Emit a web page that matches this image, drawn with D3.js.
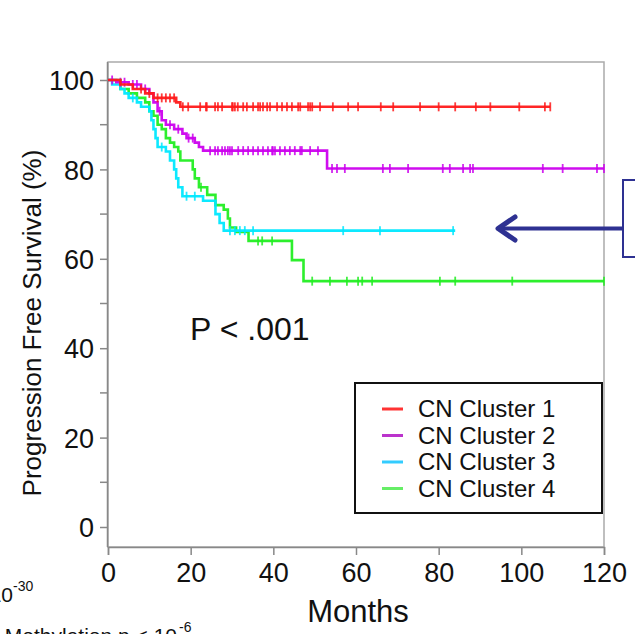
<!DOCTYPE html>
<html><head><meta charset="utf-8">
<script src="https://cdn.jsdelivr.net/npm/d3@7"></script>
<style>html,body{margin:0;padding:0;background:#fff;}svg{display:block;font-family:"Liberation Sans",Arial,sans-serif;}</style>
</head><body><div id="chart"></div>
<script>
// ---- data ----
const seriesNames = ["CN Cluster 1","CN Cluster 2","CN Cluster 3","CN Cluster 4"];
const seriesColors = ["#ff1a1a","#cc00ee","#00e8ff","#22ee22"];
const legendColors = ["#ff3333","#bb33cc","#33ccff","#66ee66"];

const c1Times = [0,3,6,9,11,16.5,17.5];
const c1Surv  = [100,99,98,97,96,95,94];
const c1End = 107;
const c1Cens = [8,10,12,13,14,15,16,18.1,19.4,22.3,23.7,23.9,25.9,26.6,27.6,30,30.2,30.7,31.4,32.7,33.6,35.1,36.3,36.8,37.5,38.5,39.2,40.9,42.1,43.3,44.5,46,46.5,48.4,48.9,49.4,51.3,54.4,58.1,60.5,66,69,75.5,80,84,89,92.5,99.5,105.7,107];

const c2Times = [0,2,5,8,10,11,12,13,14,16,18,19,21,22,23,53];
const c2Surv  = [100,99.5,99,98,97,95,93,91,90,89,88,87,86,85,84.2,80.2];
const c2End = 120;
const c2Cens = [1,3,4,6,7,9,12.5,15,17,19.5,20.5,24.7,25.9,26.6,27.6,28.3,29,29.5,30,31.5,32.7,33.9,35.1,36.3,37.5,38.7,39.7,39.9,40.4,41.6,42.8,44,45.2,46.5,46.9,48.9,50.8,54.2,55.4,57.3,66.5,68.2,72.6,81,82.7,85.9,87.6,88.3,105.2,110,118.3,120];

const c3Times = [0,1,3,4,5,7,8,10,10.5,11,11.5,12,14,15,16,16.5,17,18,23,26,27,28];
const c3Surv  = [100,99,98,97,96,95,94,93,91,89,87,85,84,82,80,78,76,74,73,70,68,66.3];
const c3End = 84;
const c3Cens = [6,13,19,21,29.5,30.7,31.9,33.1,35.1,56.9,65.8,83.5];

const c4Times = [0,3,5,7,9,10,11,12,13,14,15,16,17,17.5,20.5,21,22,24,26,28,29,29.5,31,34,44.5,47.3];
const c4Surv  = [100,98,97,96,95,93,92,90,89,87,86,85,84,82,80,78,76,74.3,72,71,69,67,66,64,59.7,55];
const c4End = 120;
const c4Cens = [22.5,36.3,37.3,39.7,49.4,53.7,57.8,60.5,61.5,63.9,80.3,84,97.8,120];

const xTicks = [0,20,40,60,80,100,120];
const yTicks = [0,20,40,60,80,100];
const yMinorTicks = [10,30,50,70,90];

const series = [
  {t:c1Times, s:c1Surv, end:c1End, cens:c1Cens},
  {t:c2Times, s:c2Surv, end:c2End, cens:c2Cens},
  {t:c3Times, s:c3Surv, end:c3End, cens:c3Cens},
  {t:c4Times, s:c4Surv, end:c4End, cens:c4Cens}
];

// ---- layout ----
const W = 635, H = 634;
const svg = d3.select("#chart").append("svg").attr("width",W).attr("height",H);
svg.append("rect").attr("width",W).attr("height",H).attr("fill","#fff");

const x = d3.scaleLinear().domain([0,120]).range([108,604]);
const y = d3.scaleLinear().domain([0,100]).range([527,80]);
const plotTop = 62, plotBottom = 547;

// frame
svg.append("rect").attr("x",108).attr("y",plotTop).attr("width",604-108).attr("height",plotBottom-plotTop)
  .attr("fill","none").attr("stroke","#aaa").attr("stroke-width",1.5);

// y axis
const yAxis = d3.axisLeft(y).tickValues(yTicks).tickSize(8).tickPadding(6).tickFormat(d3.format("d"));
const gy = svg.append("g").attr("transform","translate(108,0)").call(yAxis);
gy.select(".domain").attr("stroke","#888").attr("stroke-width",1.5).attr("d",`M-0.5,${plotTop}V${plotBottom}`);
gy.selectAll(".tick line").attr("stroke","#888").attr("stroke-width",1.5);
gy.selectAll(".tick text").attr("font-size",27).attr("fill","#111").attr("font-family","Liberation Sans, Arial, sans-serif").attr("dy","0.36em");
svg.append("g").selectAll("line").data(yMinorTicks).join("line")
  .attr("x1",100).attr("x2",108).attr("y1",d=>y(d)).attr("y2",d=>y(d)).attr("stroke","#888").attr("stroke-width",1.5);

// x axis
const xAxis = d3.axisBottom(x).tickValues(xTicks).tickSize(8).tickPadding(8).tickFormat(d3.format("d"));
const gx = svg.append("g").attr("transform",`translate(0,${plotBottom})`).call(xAxis);
gx.select(".domain").attr("stroke","#888").attr("stroke-width",1.5);
gx.selectAll(".tick line").attr("stroke","#888").attr("stroke-width",1.5);
gx.selectAll(".tick text").attr("font-size",27).attr("fill","#111").attr("font-family","Liberation Sans, Arial, sans-serif");

// axis titles
svg.append("text").attr("x",358).attr("y",622).attr("text-anchor","middle").attr("font-size",31).attr("fill","#111").text("Months");
svg.append("text").attr("transform","translate(41,323) rotate(-90)").attr("text-anchor","middle").attr("font-size",26).attr("fill","#111").text("Progression Free Survival (%)");

// P value
svg.append("text").attr("x",190).attr("y",340).attr("font-size",32).attr("fill","#111").text("P < .001");

// curves
const line = d3.line().x(d=>x(d[0])).y(d=>y(d[1])).curve(d3.curveStepAfter);
function survAt(sr, t){ let v = sr.s[0]; for(let i=0;i<sr.t.length;i++){ if(sr.t[i]<=t) v = sr.s[i]; } return v; }
const drawOrder = [3,2,1,0];
drawOrder.forEach(i=>{
  const sr = series[i];
  const pts = sr.t.map((t,k)=>[t,sr.s[k]]);
  pts.push([sr.end, sr.s[sr.s.length-1]]);
  svg.append("path").datum(pts).attr("d",line).attr("fill","none").attr("stroke",seriesColors[i]).attr("stroke-width",2.6).attr("opacity",0.95);
  svg.append("g").selectAll("line").data(sr.cens).join("line")
    .attr("x1",d=>x(d)).attr("x2",d=>x(d)).attr("y1",d=>y(survAt(sr,d))-4.5).attr("y2",d=>y(survAt(sr,d))+4.5)
    .attr("stroke",seriesColors[i]).attr("stroke-width",1.8).attr("opacity",0.85);
});

// legend
const lg = svg.append("g");
lg.append("rect").attr("x",355).attr("y",383).attr("width",247).attr("height",130).attr("fill","#fff").attr("stroke","#111").attr("stroke-width",2);
seriesNames.forEach((n,i)=>{
  const ly = 409 + i*26.5;
  lg.append("line").attr("x1",382).attr("x2",403).attr("y1",ly).attr("y2",ly).attr("stroke",legendColors[i]).attr("stroke-width",3);
  lg.append("text").attr("x",418).attr("y",ly).attr("dy","0.35em").attr("font-size",24).attr("fill","#111").text(n);
});

// arrow + box on right
const arrowColor = "#2e3192";
svg.append("rect").attr("x",623).attr("y",180).attr("width",40).attr("height",77).attr("fill","none").attr("stroke",arrowColor).attr("stroke-width",2);
svg.append("line").attr("x1",623).attr("x2",499).attr("y1",228.5).attr("y2",228.5).attr("stroke",arrowColor).attr("stroke-width",4);
svg.append("path").attr("d","M515,217 L498,228.5 L515,240").attr("fill","none").attr("stroke",arrowColor).attr("stroke-width",5).attr("stroke-linecap","round").attr("stroke-linejoin","round");

// cut-off text bottom left (cut off in the reference too)
svg.append("text").attr("x",13).attr("y",602).attr("text-anchor","end").attr("font-size",21).attr("fill","#111").text("p < 10");
svg.append("text").attr("x",13).attr("y",591).attr("font-size",14).attr("fill","#111").text("-30");
svg.append("text").attr("x",177).attr("y",643).attr("text-anchor","end").attr("font-size",21).attr("fill","#111").text("Methylation p < 10");
svg.append("text").attr("x",179).attr("y",632).attr("font-size",14).attr("fill","#111").text("-6");
</script></body></html>
